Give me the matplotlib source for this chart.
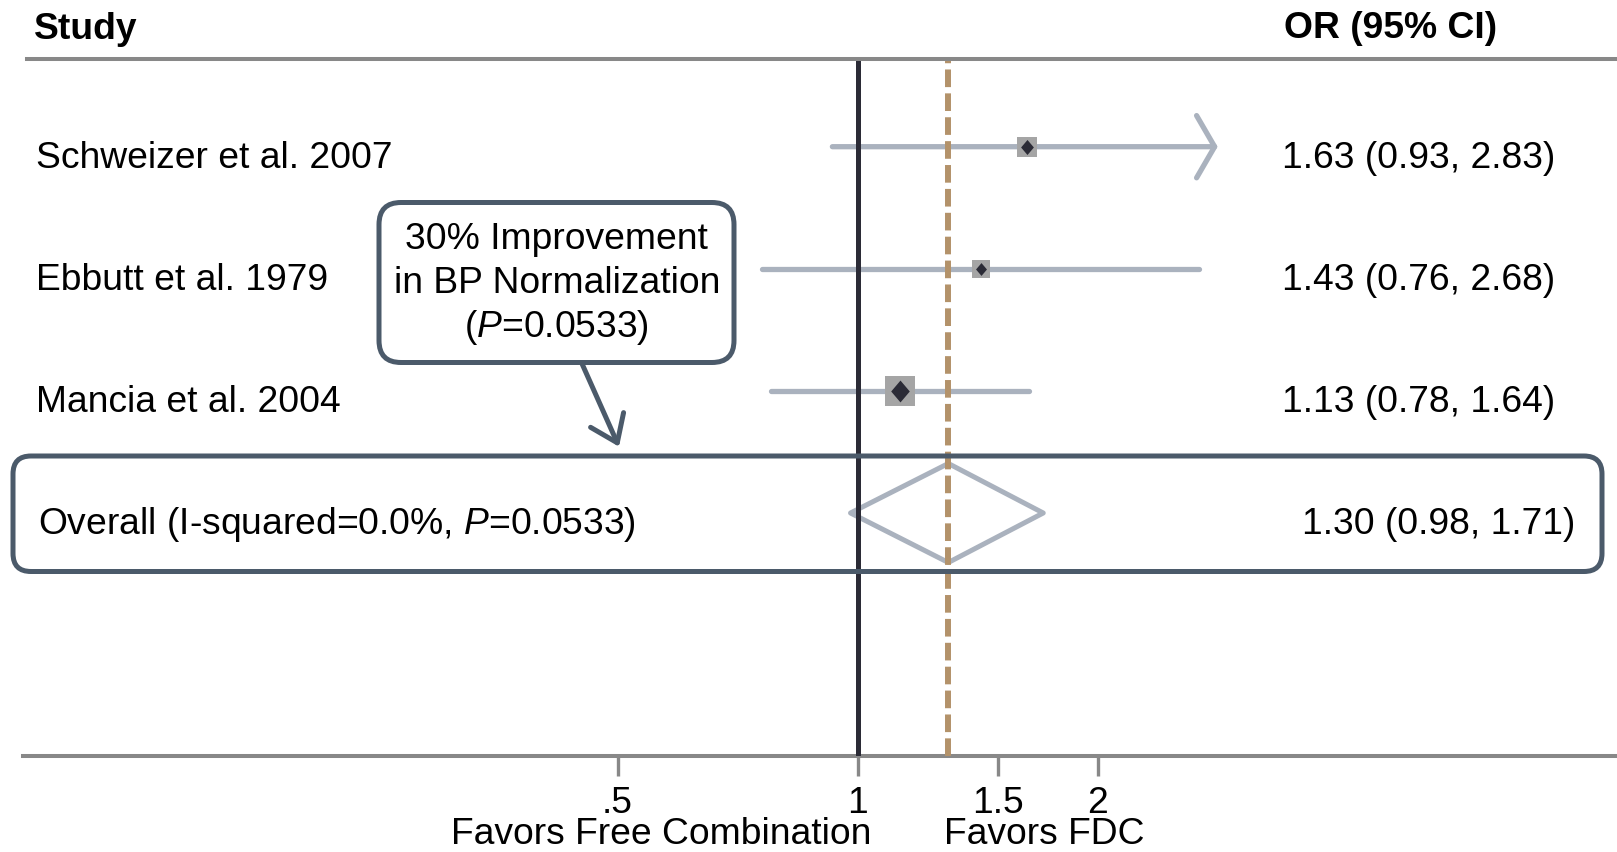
import matplotlib
matplotlib.use("Agg")
import matplotlib.pyplot as plt
from matplotlib import transforms
from matplotlib.patches import FancyBboxPatch, Polygon
from matplotlib.path import Path
from matplotlib.ticker import NullLocator
import numpy as np

# ---------------- data ----------------
studies = ["Schweizer et al. 2007", "Ebbutt et al. 1979", "Mancia et al. 2004"]
or_est = [1.63, 1.43, 1.13]
ci_lo = [0.93, 0.76, 0.78]
ci_hi = [2.83, 2.68, 1.64]
weights = [26.0, 19.0, 55.0]
or_text = ["1.63 (0.93, 2.83)", "1.43 (0.76, 2.68)", "1.13 (0.78, 1.64)"]
overall_label = "Overall (I-squared=0.0%, $P$=0.0533)"
overall_est, overall_lo, overall_hi = 1.30, 0.98, 1.71
overall_text = "1.30 (0.98, 1.71)"
x_clip_max = 2.83
tick_vals = [0.5, 1, 1.5, 2]
tick_labels = [".5", "1", "1.5", "2"]
favors_left = "Favors Free Combination"
favors_right = "Favors FDC"
callout_lines = ["30% Improvement", "in BP Normalization", "($P$=0.0533)"]
header_left = "Study"
header_right = "OR (95% CI)"

# ---------------- style ----------------
plt.rcParams['font.family'] = ['Liberation Sans', 'DejaVu Sans']
plt.rcParams['mathtext.fontset'] = 'custom'
plt.rcParams['mathtext.rm'] = 'Liberation Sans'
plt.rcParams['mathtext.it'] = 'Liberation Sans:italic'
plt.rcParams['lines.scale_dashes'] = False

FS = 26.8
DARK = '#2b2b36'
TAN = '#b3926a'
CI_COL = '#aab2be'
SQ_COL = '#a5a5a5'
BOX_COL = '#4b5a6a'
GRAY = '#888888'

W, H = 1617, 852
fig = plt.figure(figsize=(W / 100, H / 100), dpi=100)
trans_px = transforms.Affine2D().scale(1, -1).translate(0, H)

# pixel geometry of plot region
x_one_px, log2_unit_px = 857.5, 240.0
ax_l, ax_t, ax_b = 22.7, 59.0, 756.0
row0_px, row_step_px = 146.7, 122.1

ax = fig.add_axes([ax_l / W, 1 - ax_b / H, 1 - ax_l / W, (ax_b - ax_t) / H])
ax.set_xscale('log', base=2)
ax.set_xlim(2 ** ((ax_l - x_one_px) / log2_unit_px), 2 ** ((W - x_one_px) / log2_unit_px))
ax.set_ylim((ax_b - row0_px) / row_step_px, (ax_t - row0_px) / row_step_px)
ax.patch.set_alpha(0)
for s in ['left', 'right', 'top']:
    ax.spines[s].set_visible(False)
ax.spines['bottom'].set_color(GRAY)
ax.spines['bottom'].set_linewidth(2.9)
ax.set_yticks([])
ax.set_xticks(tick_vals, tick_labels)
ax.xaxis.set_minor_locator(NullLocator())
ax.tick_params(axis='x', direction='out', length=14.4, width=2.4, color=GRAY,
               pad=7.5, labelsize=FS, labelcolor='black')

# header line
fig.add_artist(plt.Line2D([26.5, W], [ax_t, ax_t], transform=trans_px, color=GRAY, lw=2.9))

rows = np.arange(len(studies))
overall_row = len(studies)

# reference lines
ax.axvline(1, color=DARK, lw=3.6, zorder=3)
ax.axvline(overall_est, color=TAN, lw=4.3, dashes=(12.7, 4.5), zorder=3)

# study CIs
for i, (lo, hi) in enumerate(zip(ci_lo, ci_hi)):
    if hi >= x_clip_max:
        ax.annotate("", xy=(hi, rows[i]), xytext=(lo, rows[i]),
                    arrowprops=dict(arrowstyle="->,head_length=0.65,head_width=1.12",
                                    mutation_scale=20, lw=3.8, color=CI_COL,
                                    shrinkA=0, shrinkB=0, capstyle='round',
                                    joinstyle='round'), zorder=2)
    else:
        ax.plot([lo, hi], [rows[i], rows[i]], color=CI_COL, lw=3.8,
                solid_capstyle='round', zorder=2)

# squares & point diamonds
diamond_marker = Path([(0, 1), (0.85, 0), (0, -1), (-0.85, 0), (0, 1)],
                      [Path.MOVETO, Path.LINETO, Path.LINETO, Path.LINETO, Path.CLOSEPOLY])
for i, (est, w) in enumerate(zip(or_est, weights)):
    side_pt = 3.95 * np.sqrt(w) * 0.72
    dia_pt = 2.95 * np.sqrt(w) * 0.72
    ax.plot([est], [rows[i]], marker='s', ms=side_pt, color=SQ_COL, mew=0,
            ls='none', zorder=4)
    ax.plot([est], [rows[i]], marker=diamond_marker, ms=dia_pt, color=DARK, mew=0,
            ls='none', zorder=5)

# overall diamond
half_h = 49.5 / row_step_px
ax.add_patch(Polygon([(overall_lo, overall_row), (overall_est, overall_row - half_h),
                      (overall_hi, overall_row), (overall_est, overall_row + half_h)],
                     closed=True, facecolor='white', edgecolor=CI_COL, lw=3.6,
                     joinstyle='round', zorder=2))

# text columns
lab_trans = transforms.offset_copy(
    transforms.blended_transform_factory(trans_px, ax.transData), fig=fig, x=0, y=-21, units='dots')
for i, name in enumerate(studies):
    ax.text(36, rows[i], name, transform=lab_trans, ha='left', va='baseline', fontsize=FS)
    ax.text(1555, rows[i], or_text[i], transform=lab_trans, ha='right', va='baseline', fontsize=FS)
ax.text(38, overall_row, overall_label, transform=lab_trans, ha='left', va='baseline', fontsize=FS)
ax.text(1575, overall_row, overall_text, transform=lab_trans, ha='right', va='baseline', fontsize=FS)

fig.text(34, 39, header_left, transform=trans_px, ha='left', va='baseline',
         fontsize=FS, fontweight='bold')
fig.text(1497, 38, header_right, transform=trans_px, ha='right', va='baseline',
         fontsize=FS, fontweight='bold')

fig.text(661, 844, favors_left, transform=trans_px, ha='center', va='baseline', fontsize=FS)
fig.text(1044, 844, favors_right, transform=trans_px, ha='center', va='baseline', fontsize=FS)

# overall highlight box
fig.add_artist(FancyBboxPatch((13, 456), 1602 - 13, 571.5 - 456,
                              boxstyle="round,pad=0,rounding_size=18",
                              transform=trans_px, fill=False, edgecolor=BOX_COL, lw=3.6,
                              zorder=6))

# callout box
fig.add_artist(FancyBboxPatch((379, 202.5), 734 - 379, 362.5 - 202.5,
                              boxstyle="round,pad=0,rounding_size=22",
                              transform=trans_px, facecolor='white', edgecolor=BOX_COL, lw=3.6,
                              zorder=6))
for k, line in enumerate(callout_lines):
    fig.text(556.7, 249 + 44 * k, line, transform=trans_px, ha='center', va='baseline',
             fontsize=FS, zorder=7)
fig.add_artist(matplotlib.text.Annotation(
    "", xy=(619, 446.7), xytext=(581.7, 363), xycoords=trans_px, textcoords=trans_px,
    arrowprops=dict(arrowstyle="->,head_length=0.9,head_width=0.65", mutation_scale=20,
                    lw=3.6, color=BOX_COL, shrinkA=0, shrinkB=0, capstyle='round',
                    joinstyle='round')))

fig.savefig("out.png", dpi=100)
